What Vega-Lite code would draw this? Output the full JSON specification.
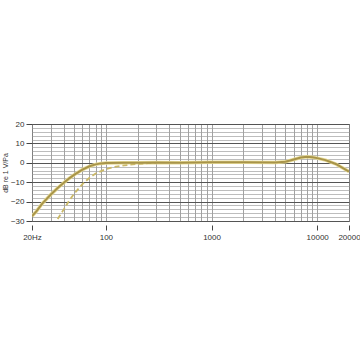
{
  "$schema": "https://vega.github.io/schema/vega-lite/v6.json",
  "autosize": "none",
  "width": 317,
  "height": 97,
  "padding": {"left": 32, "top": 124, "right": 11, "bottom": 139},
  "background": "white",
  "config": {
    "view": {"stroke": "#555", "strokeWidth": 1},
    "axis": {"labelFont": "Liberation Sans", "titleFont": "Liberation Sans", "labelColor": "#333", "titleColor": "#333"}
  },
  "datasets": {
    "solid": [
      {"freq": 20, "db": -27.5}, {"freq": 22, "db": -25}, {"freq": 25, "db": -21}, {"freq": 30, "db": -16.5},
      {"freq": 35, "db": -13}, {"freq": 40, "db": -10.3}, {"freq": 45, "db": -8}, {"freq": 50, "db": -6.2},
      {"freq": 60, "db": -3.5}, {"freq": 70, "db": -1.8}, {"freq": 80, "db": -0.8}, {"freq": 90, "db": -0.3},
      {"freq": 100, "db": -0.1}, {"freq": 150, "db": 0}, {"freq": 200, "db": 0}, {"freq": 300, "db": 0.2},
      {"freq": 500, "db": 0}, {"freq": 1000, "db": 0.3}, {"freq": 2000, "db": 0.3}, {"freq": 4000, "db": 0.2},
      {"freq": 5000, "db": 0.5}, {"freq": 6000, "db": 1.7}, {"freq": 7000, "db": 2.7}, {"freq": 8000, "db": 3.1},
      {"freq": 9000, "db": 2.9}, {"freq": 10000, "db": 2.4}, {"freq": 12000, "db": 1.4}, {"freq": 15000, "db": -0.6},
      {"freq": 20000, "db": -4.5}
    ],
    "dashed": [
      {"freq": 35, "db": -29}, {"freq": 40, "db": -24}, {"freq": 45, "db": -19.5}, {"freq": 50, "db": -16},
      {"freq": 60, "db": -11}, {"freq": 70, "db": -7.7}, {"freq": 80, "db": -5.5}, {"freq": 100, "db": -3.2},
      {"freq": 120, "db": -2.1}, {"freq": 150, "db": -1.3}, {"freq": 200, "db": -0.6}, {"freq": 250, "db": -0.2},
      {"freq": 300, "db": 0}
    ]
  },
  "resolve": {"axis": {"x": "independent", "y": "independent"}},
  "layer": [
    {
      "data": {"name": "solid"},
      "mark": {"type": "line", "color": "#e8dc98", "strokeWidth": 3.5, "clip": true},
      "encoding": {
        "x": {"field": "freq", "type": "quantitative", "scale": {"type": "log", "domain": [20, 20000], "nice": false},
          "axis": {"orient": "bottom", "values": [20,30,40,50,60,70,80,90,100,200,300,400,500,600,700,800,900,1000,2000,3000,4000,5000,6000,7000,8000,9000,10000,20000],
            "labels": false, "ticks": false, "domain": false, "title": null, "grid": true, "gridColor": "#8a8a8a", "gridWidth": 0.8}},
        "y": {"field": "db", "type": "quantitative", "scale": {"domain": [-30, 20], "nice": false},
          "axis": {"orient": "left", "values": [-30,-28,-26,-24,-22,-20,-18,-16,-14,-12,-10,-8,-6,-4,-2,0,2,4,6,8,10,12,14,16,18,20],
            "labels": false, "ticks": false, "domain": false, "title": null, "grid": true, "gridColor": "#a0a0a0", "gridWidth": 0.7}}
      }
    },
    {
      "data": {"name": "dashed"},
      "mark": {"type": "line", "color": "#cbb968", "strokeWidth": 1.8, "strokeDash": [5, 3], "clip": true},
      "encoding": {
        "x": {"field": "freq", "type": "quantitative", "scale": {"type": "log", "domain": [20, 20000], "nice": false},
          "axis": {"orient": "bottom", "values": [20, 100, 1000, 10000, 20000], "labelExpr": "datum.value == 20 ? '20Hz' : datum.label", "format": "d",
            "grid": false, "domain": false, "ticks": true, "tickSize": 5, "tickColor": "#444", "offset": 4,
            "labelFontSize": 8, "labelPadding": 3, "title": null, "labelFlush": false}},
        "y": {"field": "db", "type": "quantitative", "scale": {"domain": [-30, 20], "nice": false},
          "axis": {"orient": "left", "values": [-30, -20, -10, 0, 10, 20], "grid": true, "gridColor": "#555", "gridWidth": 1,
            "domain": false, "ticks": true, "tickSize": 6, "tickColor": "#444", "labelFontSize": 8, "labelPadding": 2,
            "title": "dB re 1 V/Pa", "titleFontSize": 7, "titleFontWeight": "normal", "titlePadding": 2}}
      }
    },
    {
      "data": {"name": "solid"},
      "mark": {"type": "line", "color": "#a8944a", "strokeWidth": 2, "clip": true},
      "encoding": {
        "x": {"field": "freq", "type": "quantitative", "scale": {"type": "log", "domain": [20, 20000], "nice": false}, "axis": null},
        "y": {"field": "db", "type": "quantitative", "scale": {"domain": [-30, 20], "nice": false}, "axis": null}
      }
    }
  ]
}
